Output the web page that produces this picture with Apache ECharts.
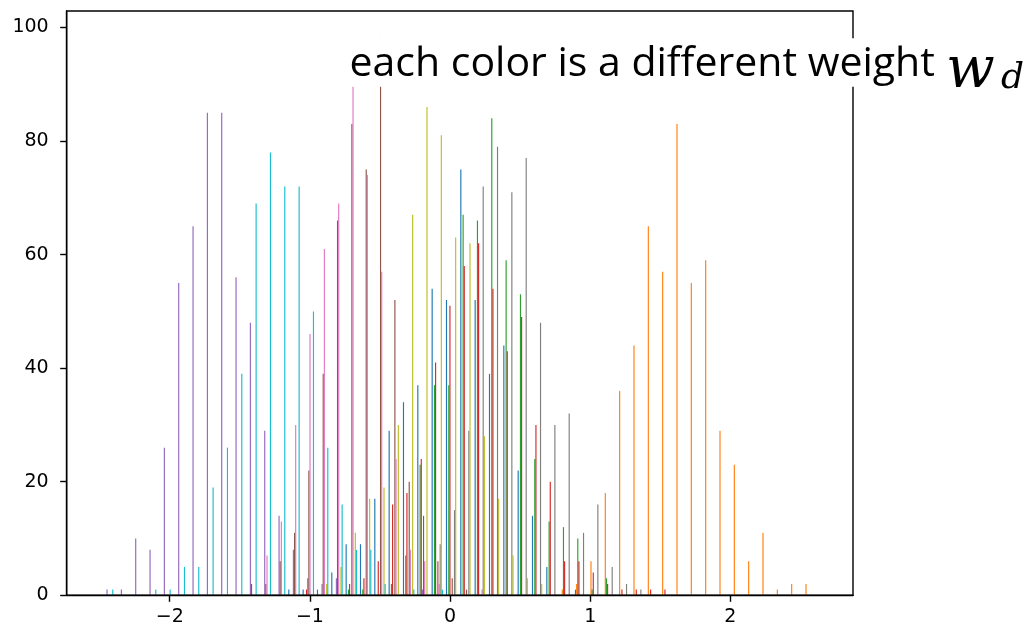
<!DOCTYPE html>
<html><head><meta charset="utf-8">
<script src="https://cdn.jsdelivr.net/npm/echarts@6/dist/echarts.min.js"></script>
<style>html,body{margin:0;padding:0;background:#fff}#c{width:1025px;height:630px}</style>
</head><body><div id="c"></div>
<script>
// histogram bins (shared by all datasets)
const nBins = 50;
const binLo = -2.4944;
const binHi = 2.6196;
const xTicks = [-2, -1, 0, 1, 2];
const yTicks = [0, 20, 40, 60, 80, 100];
const seriesNames = ['w0','w1','w2','w3','w4','w5','w6','w7','w8','w9'];
const seriesColors = ['#1f77b4','#ff7f0e','#2ca02c','#d62728','#9467bd','#8c564b','#e377c2','#7f7f7f','#bcbd22','#17becf'];

// counts per bin for each weight
const blue   = [0,0,0,0,0,0,0,0,0,0, 0,0,0,1,1,1,4,9,9,17, 29,34,37,54,52,75,52,39,44,22, 14,5,0,1,0,0,0,0,0,0, 0,0,0,0,0,0,0,0,0,0];
const orange = [0,0,0,0,0,0,0,0,0,0, 0,0,0,0,0,0,0,0,0,0, 0,0,0,0,0,0,0,0,0,0, 0,0,1,2,6,18,36,44,65,57, 83,55,59,29,23,6,11,1,2,2];
const green  = [0,0,0,0,0,0,0,0,0,0, 0,0,0,0,0,0,0,1,1,0, 2,7,23,37,37,67,66,84,59,53, 24,13,12,10,1,3,0,0,0,0, 0,0,0,0,0,0,0,0,0,0];
const red    = [0,0,0,0,0,0,0,0,0,0, 0,0,0,0,1,0,0,2,3,6, 16,18,24,41,51,58,62,54,43,49, 30,20,6,6,4,2,1,1,1,1, 0,0,0,0,0,0,0,0,0,0];
const purple = [1,1,10,8,26,55,65,85,85,56, 48,29,14,8,3,2,3,0,0,0, 0,0,1,0,0,0,0,0,0,0, 0,0,0,0,0,0,0,0,0,0, 0,0,0,0,0,0,0,0,0,0];
const brown  = [0,0,0,0,0,0,0,0,0,0, 2,2,6,11,22,39,66,83,75,98, 52,20,14,6,3,1,0,0,0,0, 0,0,0,0,0,0,0,0,0,0, 0,0,0,0,0,0,0,0,0,0];
const pink   = [0,0,0,0,0,0,0,0,0,0, 0,7,13,30,46,61,69,96,74,57, 24,8,6,2,0,0,1,0,0,0, 0,0,0,0,0,0,0,0,0,0, 0,0,0,0,0,0,0,0,0,0];
const gray   = [0,0,0,0,0,0,0,0,0,0, 0,0,0,0,0,0,0,0,0,0, 0,0,0,9,15,29,72,79,71,77, 48,30,32,11,16,5,2,1,0,0, 0,0,0,0,0,0,0,0,0,0];
const olive  = [0,0,0,0,0,0,0,0,0,0, 0,0,0,0,0,2,5,11,17,19, 30,67,86,81,63,62,28,17,7,3, 2,0,0,0,0,0,0,0,0,0, 0,0,0,0,0,0,0,0,0,0];
const cyan   = [1,0,0,1,1,5,5,19,26,39, 69,78,72,72,50,26,16,8,8,2, 0,1,0,1,0,0,0,0,0,0, 0,0,0,0,0,0,0,0,0,0, 0,0,0,0,0,0,0,0,0,0];
const allCounts = [blue, orange, green, red, purple, brown, pink, gray, olive, cyan];

// layout
const gridLeft = 66.7, gridRight = 853, gridTop = 11, gridBottom = 595.3;
const xMin = -2.7352, xMax = 2.8751, yMin = 0, yMax = 102.9;

const binW = (binHi - binLo) / nBins;
const dr = 0.8, nx = allCounts.length;
const subW = dr * binW / nx;
const pxPerUnit = (gridRight - gridLeft) / (xMax - xMin);

const series = allCounts.map((arr, i) => ({
  name: seriesNames[i],
  type: 'bar',
  data: arr.map((v, k) => [binLo + (k + 0.5) * binW - 0.5 * dr * binW * (1 - 1 / nx) + i * subW, v]).filter(d => d[1] > 0),
  barWidth: subW * pxPerUnit,
  barGap: '-100%',
  itemStyle: { color: seriesColors[i] },
  silent: true,
  animation: false
}));

const fmt = v => (v < 0 ? '\u2212' + Math.abs(v) : String(v));
const chart = echarts.init(document.getElementById('c'), null, { renderer: 'canvas' });
chart.setOption({
  animation: false,
  backgroundColor: '#fff',
  grid: {
    left: gridLeft, top: gridTop, width: gridRight - gridLeft, height: gridBottom - gridTop,
    show: true, borderColor: '#000', borderWidth: 1.4, backgroundColor: 'transparent', z: 3
  },
  xAxis: {
    type: 'value', min: xMin, max: xMax,
    axisLine: { show: true, onZero: false, lineStyle: { color: '#000', width: 1.4 } },
    axisTick: { show: true, customValues: xTicks, length: 6.5, lineStyle: { color: '#000', width: 1.4 } },
    axisLabel: { customValues: xTicks, formatter: fmt, color: '#000', fontSize: 19, fontFamily: 'DejaVu Sans', margin: 12 },
    splitLine: { show: false }
  },
  yAxis: {
    type: 'value', min: yMin, max: yMax,
    axisLine: { show: true, onZero: false, lineStyle: { color: '#000', width: 1.4 } },
    axisTick: { show: true, customValues: yTicks, length: 6.5, lineStyle: { color: '#000', width: 1.4 } },
    axisLabel: { customValues: yTicks, formatter: fmt, color: '#000', fontSize: 19, fontFamily: 'DejaVu Sans', margin: 18 },
    splitLine: { show: false }
  },
  series: series,
  graphic: [
    { type: 'rect', z: 100, shape: { x: 347, y: 38.3, width: 690, height: 48.4 }, style: { fill: '#fff' } },
    { type: 'text', z: 101, x: 349.5, y: 64.5,
      style: { text: 'each color is a different weight', font: '41px "Open Sans"', fill: '#000', verticalAlign: 'middle', align: 'left' } },
    { type: 'text', z: 101, x: 946, y: 72,
      style: { text: 'w', font: 'italic 57px "DejaVu Serif"', fill: '#000', verticalAlign: 'middle', align: 'left' } },
    { type: 'text', z: 101, x: 1001, y: 79,
      style: { text: 'd', font: 'italic 36px "DejaVu Serif"', fill: '#000', verticalAlign: 'middle', align: 'left' } }
  ]
});
</script></body></html>
